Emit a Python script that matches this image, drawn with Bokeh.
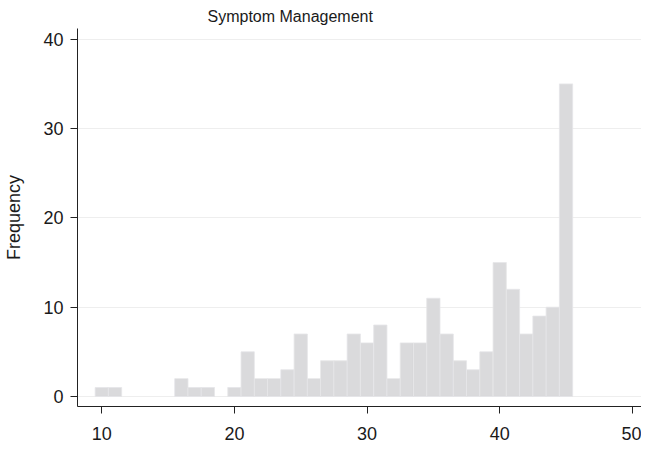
from bokeh.plotting import figure
from bokeh.models import Range1d, FixedTicker, ColumnDataSource
from bokeh.embed import file_html
from bokeh.resources import INLINE

# Histogram data (bin centre, frequency)
scores = [10, 11, 12, 13, 14, 15, 16, 17, 18, 19, 20, 21, 22, 23, 24, 25, 26, 27,
          28, 29, 30, 31, 32, 33, 34, 35, 36, 37, 38, 39, 40, 41, 42, 43, 44, 45]
freqs = [1, 1, 0, 0, 0, 0, 2, 1, 1, 0, 1, 5, 2, 2, 3, 7, 2, 4,
         4, 7, 6, 8, 2, 6, 6, 11, 7, 4, 3, 5, 15, 12, 7, 9, 10, 35]
x_ticks = [10, 20, 30, 40, 50]
y_ticks = [0, 10, 20, 30, 40]
title_text = "Symptom Management"
y_label = "Frequency"

FONT = "Liberation Sans"
TXT = "#1a1a1a"

sel = [(s, f) for s, f in zip(scores, freqs) if f > 0]
src = ColumnDataSource(dict(
    left=[s - 0.5 for s, f in sel],
    right=[s + 0.5 for s, f in sel],
    top=[f for s, f in sel],
    bottom=[0] * len(sel),
))

p = figure(width=641, height=444, output_backend="svg", toolbar_location=None,
           x_range=Range1d(8.17, 50.69), y_range=Range1d(-1.12, 41.2),
           min_border_left=77, min_border_right=0, min_border_top=28,
           min_border_bottom=38)
p.outline_line_color = None
p.background_fill_color = "white"
p.border_fill_color = "white"

p.title.text = title_text
p.title.text_font = FONT
p.title.text_font_size = "16px"
p.title.text_font_style = "normal"
p.title.text_color = TXT
p.title.align = "left"
p.title.offset = 130
p.title.standoff = 7

p.quad(left="left", right="right", top="top", bottom="bottom", source=src,
       fill_color="#dadadc", line_color="#e6e6e8", line_width=0.8)

p.xgrid.visible = False
p.ygrid.ticker = FixedTicker(ticks=y_ticks)
p.ygrid.grid_line_color = "#eeeeee"
p.ygrid.grid_line_width = 1

for ax in (p.xaxis[0], p.yaxis[0]):
    ax.axis_line_color = "#222222"
    ax.axis_line_width = 1
    ax.major_tick_line_color = "#222222"
    ax.major_tick_out = 7
    ax.major_tick_in = 0
    ax.minor_tick_line_color = None
    ax.major_label_text_font = FONT
    ax.major_label_text_font_size = "18px"
    ax.major_label_text_color = TXT

p.xaxis.ticker = FixedTicker(ticks=x_ticks)
p.yaxis.ticker = FixedTicker(ticks=y_ticks)
p.xaxis.major_label_standoff = 13
p.yaxis.major_label_standoff = 7
p.yaxis.major_label_orientation = "horizontal"

p.yaxis.axis_label = y_label
p.yaxis.axis_label_text_font = FONT
p.yaxis.axis_label_text_font_size = "18px"
p.yaxis.axis_label_text_font_style = "normal"
p.yaxis.axis_label_text_color = TXT
p.yaxis.axis_label_standoff = 16

open("out.html", "w").write(file_html(p, INLINE))
